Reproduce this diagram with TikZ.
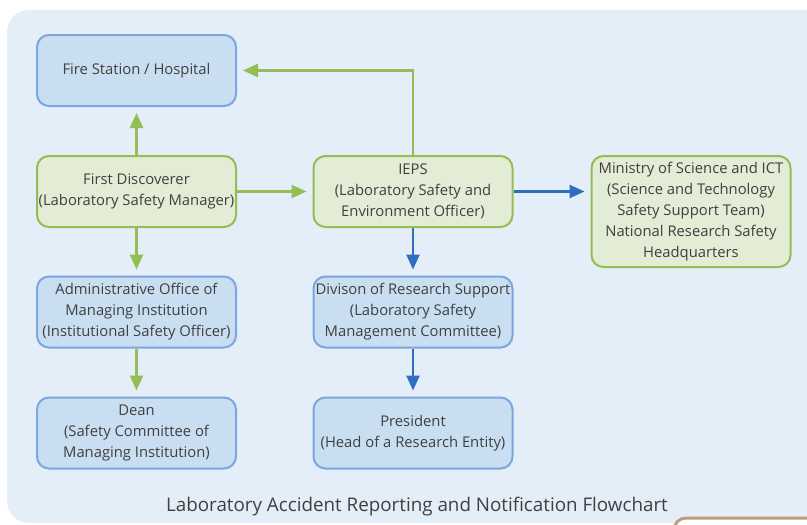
\documentclass[tikz,border=0pt]{standalone}
\usepackage{fontspec}
\setmainfont{Open Sans}
\usetikzlibrary{arrows.meta}
\definecolor{bgblue}{HTML}{E3EEF8}
\definecolor{boxblue}{HTML}{CADEF2}
\definecolor{lineblue}{HTML}{7BA7DC}
\definecolor{boxgreen}{HTML}{E3ECD5}
\definecolor{linegreen}{HTML}{94BE55}
\definecolor{arrowblue}{HTML}{2E6DBF}
\definecolor{tanframe}{HTML}{B9A074}
\definecolor{inkgray}{HTML}{404040}
\begin{document}
\begin{tikzpicture}[x=1pt, y=-1pt,
  every node/.style={font=\fontsize{14.8}{21}\selectfont, text=inkgray},
  unit/.style={draw, line width=2pt, rounded corners=12pt, minimum width=199pt, minimum height=71pt, align=center, inner sep=1pt},
  bluebox/.style={unit, fill=boxblue, draw=lineblue},
  greenbox/.style={unit, fill=boxgreen, draw=linegreen},
  greenflow/.style={draw=linegreen, line width=2.5pt, -{Triangle[length=15pt, width=13pt]}, shorten >=6pt},
  blueflow/.style={draw=arrowblue, line width=2.5pt, -{Triangle[length=15pt, width=13pt]}, shorten >=6pt}]
  \useasboundingbox (0,0) rectangle (807,525);
  \fill[bgblue, rounded corners=22pt] (7,10) rectangle (860,523);
  \draw[tanframe, line width=3pt, fill=white, rounded corners=12pt] (674,518) rectangle (860,580);
  % boxes
  \node[bluebox] (fire) at (136.5,70.5) {Fire Station / Hospital};
  \node[greenbox] (finder) at (136.5,191.5) {First Discoverer\\(Laboratory Safety Manager)};
  \node[greenbox] (ieps) at (413,191.5) {IEPS\\(Laboratory Safety and\\Environment Officer)};
  \node[greenbox, minimum height=111pt] (msit) at (691,211.5) {Ministry of Science and ICT\\(Science and Technology\\Safety Support Team)\\National Research Safety\\Headquarters};
  \node[bluebox] (admin) at (136.5,312) {Administrative Office of\\Managing Institution\\(Institutional Safety Officer)};
  \node[bluebox] (division) at (413,312) {Divison of Research Support\\(Laboratory Safety\\Management Committee)};
  \node[bluebox] (dean) at (136.5,433) {Dean\\(Safety Committee of\\Managing Institution)};
  \node[bluebox] (president) at (413,433) {President\\(Head of a Research Entity)};
  \node[font=\fontsize{18.8}{22}\selectfont] (title) at (417,507) {Laboratory Accident Reporting and Notification Flowchart};
  % flows
  \draw[greenflow] (finder) -- (fire);
  \draw[greenflow] (finder) -- (ieps);
  \draw[greenflow] (ieps.north) |- (fire.east);
  \draw[greenflow] (finder) -- (admin);
  \draw[greenflow] (admin) -- (dean);
  \draw[blueflow] (ieps) -- (msit.west |- ieps.east);
  \draw[blueflow] (ieps) -- (division);
  \draw[blueflow] (division) -- (president);
\end{tikzpicture}
\end{document}
